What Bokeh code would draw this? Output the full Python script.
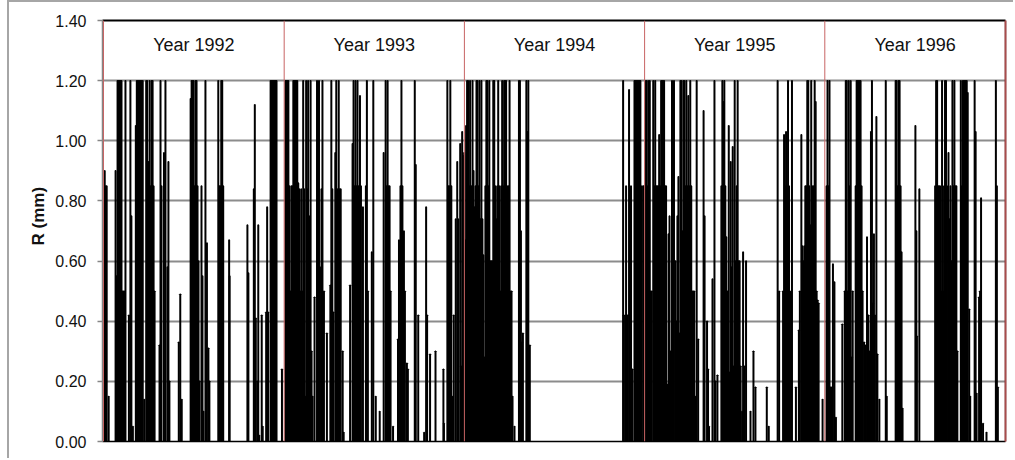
import numpy as np
from bokeh.plotting import figure
from bokeh.models import (Range1d, FixedTicker, PrintfTickFormatter, LinearAxis,
                          Span, Title, ColumnDataSource)
from bokeh.core.properties import value
from bokeh.embed import file_html
from bokeh.resources import INLINE

# Daily recharge R (mm), one list per year of (day of year, value) for rainy days.
# The axis is capped at 1.20 mm, so larger events are recorded at the cap.
year_labels = ["Year 1992", "Year 1993", "Year 1994", "Year 1995", "Year 1996"]
year_lengths = [366, 365, 365, 365, 366]
y_ticks = [0.0, 0.2, 0.4, 0.6, 0.8, 1.0, 1.2, 1.4]
r_cap = 1.2

r1992 = [(2, 0.90), (4, 0.85), (6, 0.85), (10, 0.15), (24, 0.90), (26, 0.55), (28, 1.2),
         (30, 1.2), (32, 1.2), (34, 1.2), (36, 1.2), (38, 0.5), (40, 0.5), (42, 0.5),
         (44, 1.2), (51, 0.42), (54, 1.2), (56, 0.75), (59, 0.05), (65, 1.05), (67, 1.2),
         (69, 1.2), (71, 1.2), (73, 1.2), (75, 1.2), (77, 1.2), (79, 1.2), (82, 0.14),
         (86, 1.2), (88, 1.2), (91, 0.93), (93, 1.2), (95, 0.85), (97, 1.2), (99, 1.2),
         (101, 0.85), (103, 0.5), (113, 0.32), (115, 1.2), (117, 0.85), (122, 0.96),
         (125, 1.2), (129, 0.58), (131, 0.93), (133, 0.20), (152, 0.33), (155, 0.49),
         (158, 0.14), (176, 1.14), (178, 1.2), (180, 1.2), (182, 1.2), (184, 0.85),
         (186, 1.2), (188, 1.2), (190, 0.85), (192, 0.6), (194, 0.2), (198, 0.85),
         (200, 0.55), (202, 0.1), (206, 1.2), (209, 0.66), (212, 0.31), (214, 0.2),
         (232, 1.2), (234, 0.85), (236, 0.85), (238, 1.2), (240, 1.2), (242, 0.85),
         (254, 0.67), (255, 0.55), (291, 0.72), (293, 0.56), (304, 0.84), (306, 1.12),
         (308, 0.41), (311, 0.2), (313, 0.72), (315, 0.02), (320, 0.42), (322, 0.05),
         (329, 0.43), (331, 0.78), (333, 0.43), (338, 1.2), (340, 1.2), (342, 1.2),
         (344, 1.2), (346, 1.2), (348, 1.2), (350, 1.2), (361, 0.24)]

r1993 = [(2, 1.2), (4, 1.2), (6, 1.2), (8, 1.2), (10, 0.85), (12, 0.5), (14, 0.85),
         (16, 0.85), (18, 1.2), (20, 1.2), (22, 1.2), (24, 1.2), (26, 1.2), (28, 0.86),
         (30, 0.84), (32, 0.5), (34, 0.84), (36, 0.5), (38, 1.2), (40, 0.84), (42, 0.15),
         (44, 1.2), (46, 0.84), (48, 1.2), (50, 0.75), (53, 1.2), (55, 0.3), (57, 0.15),
         (61, 0.48), (66, 1.2), (68, 0.84), (70, 1.2), (72, 0.58), (75, 0.84), (77, 1.2),
         (80, 0.5), (86, 0.36), (93, 0.52), (95, 1.2), (97, 0.84), (99, 0.43), (103, 0.96),
         (105, 1.2), (108, 0.84), (110, 1.2), (112, 0.84), (114, 0.84), (118, 0.3),
         (120, 0.03), (133, 0.52), (138, 0.99), (140, 1.2), (142, 0.85), (144, 1.2),
         (146, 0.85), (148, 1.2), (150, 0.85), (153, 1.15), (155, 0.85), (159, 0.78),
         (165, 0.85), (167, 1.2), (169, 0.5), (177, 0.63), (180, 1.2), (185, 0.15),
         (193, 0.1), (201, 0.96), (205, 1.2), (207, 0.85), (209, 1.2), (211, 0.85),
         (213, 0.85), (215, 0.5), (220, 0.05), (230, 0.34), (232, 0.67), (235, 0.85),
         (237, 1.2), (239, 0.85), (242, 0.7), (244, 0.5), (248, 0.26), (250, 0.24),
         (264, 1.2), (266, 0.92), (271, 0.42), (283, 0.03), (287, 0.78), (289, 0.42),
         (295, 0.29), (306, 0.3), (322, 0.24), (323, 0.06), (330, 1.2), (332, 0.85),
         (334, 0.85), (336, 1.2), (338, 0.85), (341, 0.15), (343, 0.42), (347, 0.74),
         (350, 0.93), (352, 0.74), (356, 0.99), (358, 0.25), (360, 1.03), (362, 0.95),
         (364, 0.96)]

r1994 = [(1, 0.67), (3, 1.05), (5, 1.2), (7, 1.2), (9, 0.85), (11, 1.2), (14, 0.85),
         (16, 1.2), (18, 0.9), (20, 0.78), (22, 0.85), (24, 1.2), (26, 1.2), (28, 0.85),
         (30, 1.2), (32, 0.74), (34, 1.2), (36, 0.74), (38, 0.62), (40, 0.28), (42, 0.85),
         (44, 1.2), (46, 1.2), (48, 0.85), (50, 1.2), (52, 0.6), (54, 0.6), (56, 0.6),
         (58, 1.2), (60, 1.2), (62, 0.85), (64, 0.74), (66, 0.85), (68, 1.2), (70, 0.85),
         (72, 0.5), (74, 0.85), (76, 1.2), (78, 0.85), (80, 1.2), (82, 1.2), (84, 1.2),
         (86, 0.85), (89, 0.85), (91, 1.2), (93, 0.5), (95, 0.5), (97, 0.15), (101, 0.05),
         (110, 1.2), (112, 1.2), (114, 0.7), (116, 0.33), (118, 0.36), (125, 1.2),
         (127, 1.03), (129, 1.2), (132, 0.32), (321, 1.2), (322, 0.42), (325, 0.42),
         (327, 0.85), (330, 0.42), (333, 1.17), (335, 0.84), (337, 0.85), (340, 0.24),
         (344, 1.2), (346, 1.2), (348, 1.2), (350, 1.2), (352, 1.2), (354, 1.2),
         (356, 1.2), (359, 0.85), (362, 0.85), (364, 0.85)]

r1995 = [(2, 1.2), (4, 1.2), (6, 0.85), (8, 1.2), (10, 1.2), (12, 0.5), (14, 0.5),
         (17, 1.2), (19, 0.85), (21, 1.2), (23, 0.85), (25, 0.85), (27, 0.85), (29, 1.02),
         (31, 0.85), (33, 1.2), (35, 1.2), (37, 1.2), (39, 1.2), (41, 0.85), (43, 0.85),
         (45, 0.19), (48, 0.69), (50, 0.75), (52, 0.3), (55, 1.2), (57, 0.85), (59, 1.2),
         (62, 0.6), (64, 0.4), (66, 0.75), (68, 0.88), (70, 0.36), (72, 1.2), (74, 1.2),
         (76, 0.7), (78, 1.2), (80, 1.2), (82, 0.85), (84, 1.2), (86, 0.85), (88, 1.15),
         (90, 0.85), (92, 1.2), (94, 0.85), (96, 0.5), (98, 0.5), (100, 0.5), (102, 0.15),
         (105, 1.2), (108, 0.34), (119, 1.1), (121, 0.75), (126, 0.4), (128, 0.24),
         (130, 0.05), (137, 0.54), (141, 1.2), (143, 0.2), (147, 0.22), (155, 0.85),
         (157, 1.2), (159, 1.13), (161, 1.2), (163, 0.85), (165, 0.68), (167, 0.5),
         (170, 1.05), (172, 0.23), (174, 0.93), (176, 0.58), (178, 0.98), (180, 0.25),
         (182, 1.2), (184, 0.6), (186, 0.85), (188, 1.2), (190, 0.6), (192, 0.6),
         (194, 0.25), (197, 0.1), (199, 0.63), (202, 0.25), (205, 0.6), (214, 0.1),
         (220, 0.3), (224, 0.18), (247, 0.18), (251, 0.05), (269, 1.2), (272, 0.5),
         (280, 0.5), (282, 1.02), (284, 0.85), (286, 1.03), (288, 0.85), (290, 1.2),
         (292, 0.85), (294, 0.5), (298, 1.2), (306, 0.18), (312, 0.37), (314, 0.5),
         (317, 1.02), (319, 0.65), (321, 0.6), (323, 0.65), (325, 0.85), (327, 0.85),
         (329, 1.2), (331, 1.2), (333, 0.85), (335, 0.72), (337, 1.2), (339, 0.85),
         (342, 0.85), (344, 1.2), (346, 1.13), (348, 0.5), (350, 0.47), (352, 0.46),
         (360, 0.14)]

r1996 = [(3, 0.85), (5, 1.2), (7, 0.85), (9, 1.2), (11, 0.18), (13, 0.18), (16, 0.59),
         (19, 0.53), (22, 0.08), (35, 0.39), (40, 0.5), (42, 1.2), (44, 1.2), (46, 0.5),
         (48, 1.2), (50, 0.85), (52, 1.2), (54, 0.28), (56, 0.5), (62, 0.85), (64, 1.2),
         (66, 1.2), (68, 1.2), (70, 1.2), (72, 1.2), (74, 0.85), (76, 0.5), (79, 0.33),
         (82, 0.32), (85, 0.68), (88, 0.42), (90, 0.3), (93, 1.03), (95, 1.2), (97, 0.46),
         (99, 0.69), (101, 0.42), (104, 1.08), (106, 0.29), (110, 0.14), (123, 1.2),
         (125, 0.15), (143, 1.2), (145, 1.2), (147, 0.85), (149, 1.2), (151, 1.2),
         (153, 0.85), (155, 0.63), (157, 0.11), (183, 1.05), (185, 0.7), (186, 0.35),
         (191, 0.84), (223, 0.85), (225, 1.2), (227, 1.2), (229, 0.85), (231, 0.85),
         (233, 0.85), (235, 0.5), (237, 1.2), (239, 0.5), (241, 0.85), (243, 1.2),
         (245, 1.2), (247, 0.85), (250, 0.96), (252, 0.74), (254, 0.85), (256, 0.6),
         (258, 1.2), (260, 0.85), (262, 1.2), (264, 0.85), (266, 0.85), (268, 0.3),
         (275, 1.2), (277, 0.85), (279, 1.2), (281, 1.2), (283, 1.2), (285, 1.2),
         (287, 1.2), (289, 1.16), (292, 0.44), (294, 0.15), (303, 1.2), (305, 1.03),
         (307, 0.16), (312, 0.48), (314, 0.5), (316, 0.81), (320, 0.06), (327, 0.03),
         (346, 1.2), (348, 0.85), (350, 0.18)]

yearly = [r1992, r1993, r1994, r1995, r1996]

# ---- build the continuous daily axis ----
year_start = np.concatenate([[0], np.cumsum(year_lengths)[:-1]])
total_days = int(sum(year_lengths))

xs, tops = [], []
for start, events in zip(year_start, yearly):
    for day, mm in events:
        xs.append(start + day + 0.5)
        tops.append(min(mm, r_cap))
src = ColumnDataSource(data=dict(x=xs, top=tops))

FONT = "Liberation Sans"

p = figure(width=1006, height=458, output_backend="svg", toolbar_location=None,
           x_range=Range1d(-2, total_days), y_range=Range1d(0, 1.4),
           min_border_left=93, min_border_right=10, min_border_top=18,
           min_border_bottom=19)
p.background_fill_color = "white"
p.border_fill_color = "white"
p.outline_line_color = None
# thin grey frame around the whole chart
p.styles = {"margin-left": "7px", "border-left": "2px solid #a6a6a6",
            "border-top": "2px solid #a6a6a6"}

# horizontal grid
p.xgrid.visible = False
p.ygrid.ticker = FixedTicker(ticks=[0.2, 0.4, 0.6, 0.8, 1.0, 1.2])
p.ygrid.grid_line_color = "#8c8c8c"
p.ygrid.grid_line_width = 2

# y axis
ya = p.yaxis[0]
ya.ticker = FixedTicker(ticks=y_ticks)
ya.formatter = PrintfTickFormatter(format="%.2f")
ya.axis_line_color = "#868686"
ya.axis_line_width = 1.5
ya.major_tick_line_color = "#868686"
ya.major_tick_line_width = 1.5
ya.major_tick_out = 5
ya.major_tick_in = 0
ya.minor_tick_line_color = None
ya.major_label_standoff = 11
ya.major_label_text_font = FONT
ya.major_label_text_font_size = "16px"
ya.major_label_text_color = "#111111"

# y-axis title, anchored from the bottom of the frame and lifted
p.add_layout(Title(text="R (mm)", align="left", offset=196, standoff=10,
                   text_font=FONT, text_font_size="17px", text_font_style="bold",
                   text_color="#111111"), "left")

# bottom axis: plain black baseline
xa = p.xaxis[0]
xa.ticker = FixedTicker(ticks=[])
xa.axis_line_color = "black"
xa.axis_line_width = 1.5
xa.major_tick_line_color = None
xa.minor_tick_line_color = None

# frame top (black) and right edge
top_axis = LinearAxis(ticker=FixedTicker(ticks=[]), axis_line_color="black",
                      axis_line_width=2, major_tick_line_color=None,
                      minor_tick_line_color=None)
p.add_layout(top_axis, "above")
right_axis = LinearAxis(ticker=FixedTicker(ticks=[]), axis_line_color="#8a3434",
                        axis_line_width=2, major_tick_line_color=None,
                        minor_tick_line_color=None)
p.add_layout(right_axis, "right")

# daily bars
p.vbar(x="x", top="top", bottom=0, width=1.0, source=src,
       fill_color="black", line_color="black", line_width=1.5)

# year separators
for loc in list(year_start) + [total_days]:
    p.add_layout(Span(location=float(loc), dimension="height",
                      line_color="#c86464", line_width=1))

# year names in the top band
mids = [float(s) + n / 2 for s, n in zip(year_start, year_lengths)]
p.text(x=mids, y=[1.317] * len(mids), text=year_labels, text_align="center",
       text_baseline="middle", text_font=value(FONT), text_font_size="18px",
       text_color="#111111")

open("out.html", "w").write(file_html(p, INLINE))
